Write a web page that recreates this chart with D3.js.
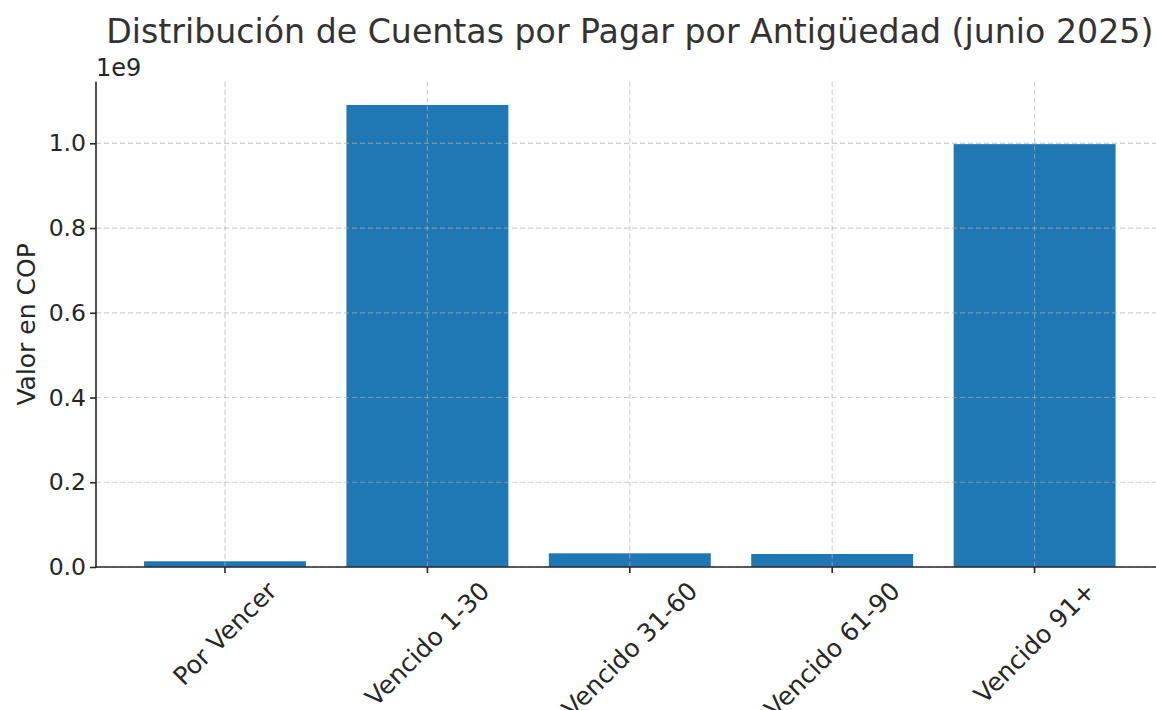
<!DOCTYPE html>
<html><head><meta charset="utf-8">
<script src="https://cdn.jsdelivr.net/npm/d3@7/dist/d3.min.js"></script>
<style>body{margin:0;background:#fff}svg{display:block}text{font-family:"DejaVu Sans",sans-serif}</style>
</head><body>
<svg id="c" width="1156" height="710"></svg>
<script>
const categories = ["Por Vencer","Vencido 1-30","Vencido 31-60","Vencido 61-90","Vencido 91+"];
const values = [13500000, 1090500000, 32300000, 30700000, 998000000];
const yTicks = [0, 0.2e9, 0.4e9, 0.6e9, 0.8e9, 1.0e9];
const title = "Distribución de Cuentas por Pagar por Antigüedad (junio 2025)";
const yLabel = "Valor en COP";

const svg = d3.select("#c");
const left = 96, bottom = 567;
const unit = 202.4;
const x = d3.scaleLinear().domain([-0.64, 4.64]).range([225 - 0.64*unit, 225 + 4.64*unit]);
const yMax = d3.max(values) * 1.05;
const y = d3.scaleLinear().domain([0, 1e9]).range([bottom, 143.3]);
const yTop = y(yMax);
const ink = "#262626";

// bars
svg.append("g").selectAll("rect").data(values).join("rect")
  .attr("x", (d,i)=>x(i-0.4)).attr("width", (d,i)=>x(i+0.4)-x(i-0.4))
  .attr("y", d=>y(d)).attr("height", d=>bottom - y(d))
  .attr("fill", "#1f77b4");

// grid
svg.append("g").selectAll("line").data(categories).join("line")
  .attr("x1", (d,i)=>x(i)).attr("x2", (d,i)=>x(i)).attr("y1", yTop).attr("y2", bottom)
  .attr("stroke", "#b0b0b0").attr("stroke-opacity", 0.6).attr("stroke-width", 1.2).attr("stroke-dasharray", "5,3");
svg.append("g").selectAll("line").data(yTicks).join("line")
  .attr("x1", left).attr("x2", 1156).attr("y1", d=>y(d)).attr("y2", d=>y(d))
  .attr("stroke", "#b0b0b0").attr("stroke-opacity", 0.6).attr("stroke-width", 1.2).attr("stroke-dasharray", "5,3");

// y axis
const yAxis = d3.axisLeft(y).tickValues(yTicks).tickFormat(d=>(d/1e9).toFixed(1)).tickSize(6).tickPadding(4);
const ya = svg.append("g").attr("transform", `translate(${left},0)`).call(yAxis);
ya.select(".domain").remove();
ya.selectAll(".tick line").attr("stroke", ink).attr("stroke-width", 1.6);
ya.selectAll(".tick text").attr("font-size", 23.5).attr("fill", ink).attr("font-family", "DejaVu Sans");
svg.append("line").attr("x1", left).attr("x2", left).attr("y1", yTop).attr("y2", bottom+0.8)
  .attr("stroke", ink).attr("stroke-width", 1.6);

// x axis
const xa = svg.append("g");
xa.selectAll("line").data(categories).join("line")
  .attr("x1", (d,i)=>x(i)).attr("x2", (d,i)=>x(i)).attr("y1", bottom).attr("y2", bottom+6)
  .attr("stroke", ink).attr("stroke-width", 1.6);
svg.append("line").attr("x1", left-0.8).attr("x2", 1156).attr("y1", bottom).attr("y2", bottom)
  .attr("stroke", ink).attr("stroke-width", 1.6);
const fs = 25;
xa.selectAll("text").data(categories).join("text")
  .attr("font-size", fs).attr("fill", ink).attr("text-anchor", "middle")
  .attr("dominant-baseline", "central")
  .text(d=>d)
  .each(function(d,i){
    const len = this.getComputedTextLength();
    const h = fs * 0.95;
    const bh = (len + h) * Math.SQRT1_2;
    const cy = bottom + 11 + bh/2;
    d3.select(this).attr("transform", `translate(${x(i)},${cy}) rotate(-45)`);
  });

// labels
svg.append("text").attr("x", 96).attr("y", 76).attr("font-size", 24).attr("fill", ink).text("1e9");
svg.append("text").attr("transform", `translate(35,${(yTop+bottom)/2}) rotate(-90)`)
  .attr("text-anchor", "middle").attr("font-size", 25).attr("fill", ink).text(yLabel);
svg.append("text").attr("x", (x.range()[0]+x.range()[1])/2).attr("y", 43)
  .attr("text-anchor", "middle").attr("font-size", 33.2).attr("fill", "#333333").text(title);
</script>
</body></html>
